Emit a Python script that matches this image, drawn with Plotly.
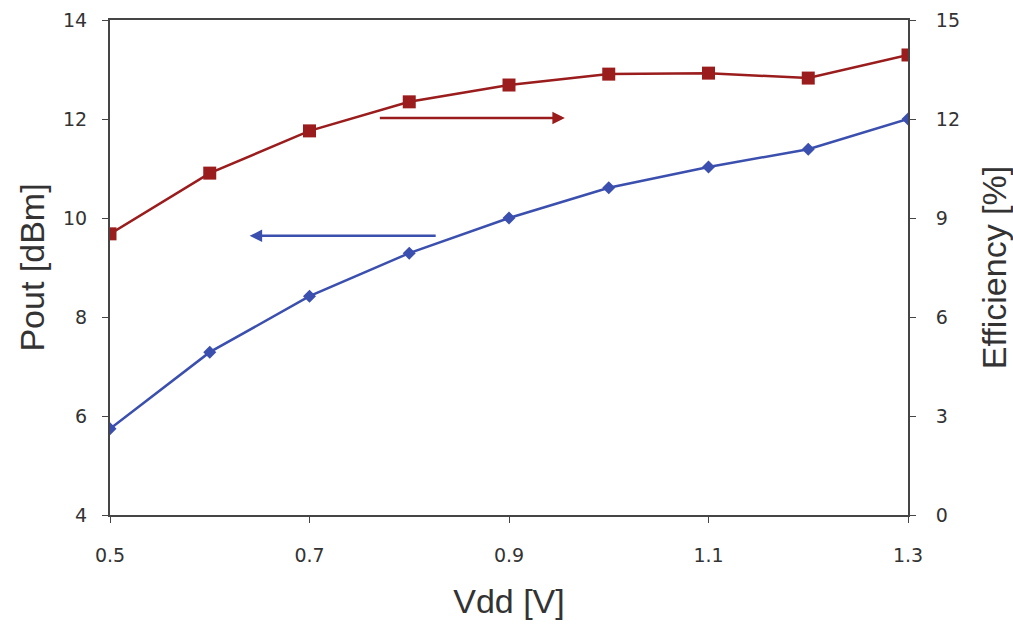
import plotly.graph_objects as go

vdd = [0.5, 0.6, 0.7, 0.8, 0.9, 1.0, 1.1, 1.2, 1.3]
pout_dbm = [5.74, 7.29, 8.42, 9.29, 10.0, 10.61, 11.03, 11.39, 12.0]
efficiency_pct = [8.52, 10.36, 11.64, 12.52, 13.03, 13.36, 13.39, 13.24, 13.94]

x_ticks = [0.5, 0.7, 0.9, 1.1, 1.3]
y_left_ticks = [4, 6, 8, 10, 12, 14]
y_right_ticks = [0, 3, 6, 9, 12, 15]

RED = "#9a1c1c"
BLUE = "#3b4fae"
AXIS = "#454545"
TEXT = "#333333"
TITLE_FONT = "Liberation Sans, Arial, sans-serif"
TICK_FONT = "DejaVu Sans, Verdana, sans-serif"

fig = go.Figure()
fig.add_trace(go.Scatter(
    x=vdd, y=pout_dbm, mode="lines+markers", name="Pout",
    line=dict(color=BLUE, width=2.5),
    marker=dict(symbol="diamond", size=10, color=BLUE),
))
fig.add_trace(go.Scatter(
    x=vdd, y=efficiency_pct, mode="lines+markers", name="Efficiency",
    line=dict(color=RED, width=2.5),
    marker=dict(symbol="square", size=13, color=RED),
    yaxis="y2",
))

axis_common = dict(
    showgrid=False, zeroline=False, showline=True, linecolor=AXIS, linewidth=2,
    ticks="outside", ticklen=6, tickcolor=AXIS, tickwidth=1, automargin=False,
    tickfont=dict(size=19, color=TEXT, family=TICK_FONT),
)
title_font = dict(size=34, family=TITLE_FONT, color=TEXT)

fig.update_layout(
    width=1013, height=624,
    margin=dict(l=110, r=105, t=20, b=109),
    paper_bgcolor="white", plot_bgcolor="white",
    showlegend=False,
    font=dict(family=TITLE_FONT, color=TEXT),
    xaxis=dict(
        range=[0.5, 1.3], tickvals=x_ticks, ticktext=[f"{v:.1f}" for v in x_ticks],
        mirror=True, ticklabelstandoff=16,
        title=dict(text="Vdd [V]", font=title_font, standoff=24),
        **axis_common,
    ),
    yaxis=dict(
        range=[4, 14], tickvals=y_left_ticks, ticklabelstandoff=11,
        title=dict(text="Pout [dBm]", font=title_font, standoff=8),
        **axis_common,
    ),
    yaxis2=dict(
        range=[0, 15], tickvals=y_right_ticks, overlaying="y", side="right",
        ticklabelstandoff=16,
        title=dict(text="Efficiency [%]", font=title_font, standoff=26),
        **axis_common,
    ),
)

# Arrows pointing each curve to its own axis
fig.add_annotation(
    x=0.956, y=12.02, ax=0.769, ay=12.02, xref="x", yref="y", axref="x", ayref="y",
    showarrow=True, arrowhead=2, arrowsize=1, arrowwidth=2.5, arrowcolor=RED, text="",
)
fig.add_annotation(
    x=0.640, y=9.64, ax=0.828, ay=9.64, xref="x", yref="y", axref="x", ayref="y",
    showarrow=True, arrowhead=2, arrowsize=1, arrowwidth=2.5, arrowcolor=BLUE, text="",
)

fig.write_html("out.html")
